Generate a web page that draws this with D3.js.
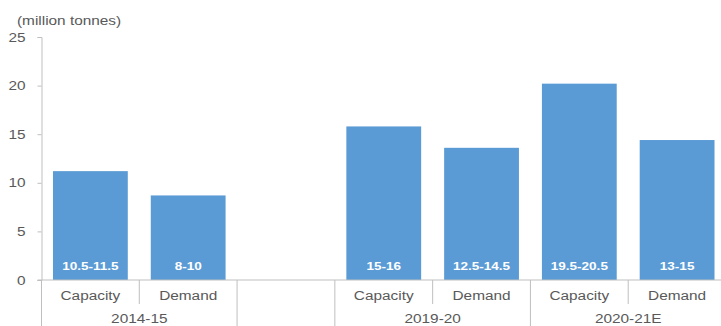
<!DOCTYPE html>
<html>
<head>
<meta charset="utf-8">
<script src="https://cdn.jsdelivr.net/npm/d3@7"></script>
<style>
  body { margin: 0; background: #fff; }
  svg { display: block; font-family: "Liberation Sans", Arial, sans-serif; }
</style>
</head>
<body>
<div id="chart"></div>
<script>
const slots = ["c0", "d0", "gap", "c1", "d1", "c2", "d2"];
const categories = ["Capacity", "Demand", "", "Capacity", "Demand", "Capacity", "Demand"];
const values = [11.2, 8.7, null, 15.8, 13.6, 20.2, 14.4];
const rangeLabels = ["10.5-11.5", "8-10", "", "15-16", "12.5-14.5", "19.5-20.5", "13-15"];
const groups = [
  { name: "2014-15", from: 0, to: 1 },
  { name: "", from: 2, to: 2 },
  { name: "2019-20", from: 3, to: 4 },
  { name: "2020-21E", from: 5, to: 6 },
];
const yTicks = [0, 5, 10, 15, 20, 25];

const width = 721;
const height = 326;
const margin = { top: 37, right: -5, bottom: 46, left: 41.5 };

const textColor = "#595959";
const axisColor = "#bfbfbf";
const barColor = "#5b9bd5";
// the source picture is a little stretched sideways
const sx = 1.23;

const svg = d3
  .select("#chart")
  .append("svg")
  .attr("width", width)
  .attr("height", height);

const placeText = (sel, x, y) =>
  sel.attr("transform", (d, i) => {
    const px = typeof x === "function" ? x(d, i) : x;
    const py = typeof y === "function" ? y(d, i) : y;
    return `translate(${px}, ${py}) scale(${sx}, 1)`;
  });

const xScale = d3
  .scaleBand()
  .domain(slots)
  .range([margin.left, width - margin.right])
  .paddingInner(0.235)
  .paddingOuter(0.1175);

const yScale = d3
  .scaleLinear()
  .domain([0, 25])
  .range([height - margin.bottom, margin.top]);

const step = xScale.step();
const slotLeft = (i) => margin.left + i * step;
const baseY = yScale(0);

// y axis title
svg
  .append("text")
  .attr("fill", textColor)
  .style("font-size", "12.5px")
  .text("(million tonnes)")
  .call(placeText, 17, 25);

// y axis
const yAxis = svg
  .append("g")
  .attr("transform", `translate(${margin.left}, 0)`)
  .call(d3.axisLeft(yScale).tickValues(yTicks).tickSize(4).tickPadding(12));

yAxis.select(".domain").attr("stroke", axisColor);
yAxis.selectAll(".tick line").attr("stroke", axisColor);
yAxis
  .selectAll(".tick text")
  .attr("x", -16 / sx)
  .attr("transform", `scale(${sx}, 1)`)
  .attr("fill", textColor)
  .style("font-size", "12.5px")
  .style("font-family", "Liberation Sans, Arial, sans-serif");

// bars
svg
  .selectAll(".bar")
  .data(values.map((v, i) => ({ v, slot: slots[i] })).filter((d) => d.v !== null))
  .join("rect")
  .attr("class", "bar")
  .attr("x", (d) => xScale(d.slot))
  .attr("y", (d) => yScale(d.v))
  .attr("width", xScale.bandwidth())
  .attr("height", (d) => baseY - yScale(d.v))
  .attr("fill", barColor);

// range labels in bars
svg
  .selectAll(".range-label")
  .data(rangeLabels.map((t, i) => ({ t, slot: slots[i] })).filter((d) => d.t))
  .join("text")
  .attr("class", "range-label")
  .attr("text-anchor", "middle")
  .attr("fill", "#ffffff")
  .style("font-size", "11px")
  .style("font-weight", "bold")
  .text((d) => d.t)
  .call(placeText, (d) => xScale(d.slot) + xScale.bandwidth() / 2, baseY - 10);

// baseline
svg
  .append("line")
  .attr("x1", margin.left - 4)
  .attr("x2", width)
  .attr("y1", baseY)
  .attr("y2", baseY)
  .attr("stroke", axisColor);

// category labels
svg
  .selectAll(".cat-label")
  .data(categories.map((t, i) => ({ t, i })).filter((d) => d.t))
  .join("text")
  .attr("class", "cat-label")
  .attr("text-anchor", "middle")
  .attr("fill", textColor)
  .style("font-size", "12.5px")
  .text((d) => d.t)
  .call(placeText, (d) => slotLeft(d.i) + step / 2, baseY + 20);

// short dividers between categories inside a group
const shortDividers = [];
groups.forEach((g) => {
  for (let i = g.from + 1; i <= g.to; i++) shortDividers.push(i);
});
svg
  .selectAll(".short-div")
  .data(shortDividers)
  .join("line")
  .attr("class", "short-div")
  .attr("x1", (d) => slotLeft(d))
  .attr("x2", (d) => slotLeft(d))
  .attr("y1", baseY)
  .attr("y2", baseY + 24)
  .attr("stroke", axisColor);

// long dividers between groups
const longDividers = groups.map((g) => g.from).concat([slots.length]);
svg
  .selectAll(".long-div")
  .data(longDividers)
  .join("line")
  .attr("class", "long-div")
  .attr("x1", (d) => slotLeft(d))
  .attr("x2", (d) => slotLeft(d))
  .attr("y1", baseY)
  .attr("y2", height)
  .attr("stroke", axisColor);

// group labels
svg
  .selectAll(".group-label")
  .data(groups.filter((g) => g.name))
  .join("text")
  .attr("class", "group-label")
  .attr("text-anchor", "middle")
  .attr("fill", textColor)
  .style("font-size", "12.5px")
  .text((d) => d.name)
  .call(placeText, (d) => (slotLeft(d.from) + slotLeft(d.to + 1)) / 2, baseY + 43);
</script>
</body>
</html>
